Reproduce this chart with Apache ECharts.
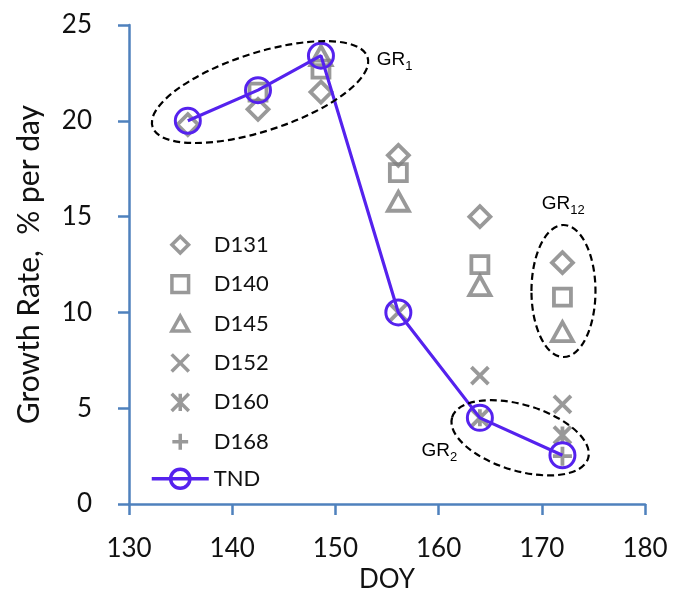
<!DOCTYPE html>
<html><head><meta charset="utf-8">
<script src="https://cdn.jsdelivr.net/npm/echarts@6/dist/echarts.min.js"></script>
<style>html,body{margin:0;padding:0;background:#fff}#c{width:673px;height:598px}</style>
</head><body><div id="c"></div>
<script>
// ---- data ----
const doy  = [135.7, 142.5, 148.6, 156.1, 164.0, 172.0];
const D131 = [19.8, 20.6, 21.5, 18.2, 15.0, 12.6];
const D140 = [null, 21.5, 22.7, 17.3, 12.5, 10.8];
const D145 = [null, null, 23.4, 15.8, 11.4, 9.0];
const D152 = [null, null, null, 10.0, 6.7, 5.2];
const D160 = [null, null, null, null, 4.5, 3.6];
const D168 = [null, null, null, null, null, 2.5];
const TND  = [20.0, 21.6, 23.4, 10.0, 4.5, 2.55];
const seriesNames = ['D131', 'D140', 'D145', 'D152', 'D160', 'D168'];
const seriesValues = [D131, D140, D145, D152, D160, D168];
const xTickLabels = ['130', '140', '150', '160', '170', '180'];
const yTickLabels = ['0', '5', '10', '15', '20', '25'];

// ---- styles ----
const GRAY = '#808080';
const PURPLE = '#5522ee';
const AXIS = '#4f81bd';
const FONT = 'Lato';
const shapes = [
  'M5,0L10,5L5,10L0,5Z',
  'M0,0L10,0L10,10L0,10Z',
  'M5,0.5L10,9.5L0,9.5Z',
  'M0,0L10,10M10,0L0,10',
  'M0,0L10,10M10,0L0,10M5,0L5,10',
  'M5,0L5,10M0,5L10,5'
];
const sizes = [21, 17, 21, 17, 17, 19];
const legendPad = [2.2, 2.2, 2.2, 2.0, 2.0, 2.6];

function pairs(vals) {
  const out = [];
  vals.forEach((v, i) => { if (v !== null) out.push([doy[i], v]); });
  return out;
}

const series = seriesNames.map((n, k) => ({
  name: n, type: 'scatter', data: pairs(seriesValues[k]),
  symbol: 'path://' + shapes[k], symbolSize: sizes[k], symbolKeepAspect: true,
  itemStyle: {color: 'transparent', borderColor: GRAY, borderWidth: 3.8},
  emphasis: {disabled: true}, z: 2
}));
series.push({
  name: 'TND', type: 'line', data: pairs(TND),
  symbol: 'circle', symbolSize: 25, showAllSymbol: true,
  lineStyle: {color: PURPLE, width: 3.2},
  itemStyle: {color: 'transparent', borderColor: PURPLE, borderWidth: 3},
  emphasis: {disabled: true}, z: 3
});

// legend icons: same shapes with a little empty margin (moveTo points) so they draw smaller
const legendData = seriesNames.map((n, k) => {
  const p = legendPad[k];
  return {name: n, icon: 'path://M' + (-p) + ',' + (-p) + 'M' + (10 + p) + ',' + (10 + p) + shapes[k]};
});
legendData.push({name: 'TND'});

const option = {
  animation: false,
  backgroundColor: '#fff',
  grid: {left: 129, right: 28, top: 25, bottom: 91, containLabel: false},
  legend: {
    orient: 'vertical', left: 145, top: 226,
    itemWidth: 57, itemHeight: 24, itemGap: 11.9,
    symbolKeepAspect: true,
    selectedMode: false,
    data: legendData,
    textStyle: {color: '#111', fontSize: 22, fontFamily: FONT, lineHeight: 22},
    itemStyle: {borderWidth: 3.5},
    lineStyle: {width: 3.5}
  },
  xAxis: {
    type: 'value', min: 130, max: 180, interval: 10,
    axisLine: {show: true, onZero: false, lineStyle: {color: AXIS, width: 2.5}},
    axisTick: {show: true, length: 11, lineStyle: {color: AXIS, width: 2.5}},
    splitLine: {show: false},
    axisLabel: {color: '#111', fontSize: 26, fontFamily: FONT, margin: 32,
      formatter: v => xTickLabels[Math.round((v - 130) / 10)]},
    name: 'DOY', nameLocation: 'middle', nameGap: 62,
    nameTextStyle: {color: '#111', fontSize: 26, fontFamily: FONT}
  },
  yAxis: {
    type: 'value', min: 0, max: 25, interval: 5,
    axisLine: {show: true, onZero: false, lineStyle: {color: AXIS, width: 2.5}},
    axisTick: {show: true, length: 11, lineStyle: {color: AXIS, width: 2.5}},
    splitLine: {show: false},
    axisLabel: {color: '#111', fontSize: 26, fontFamily: FONT, margin: 37,
      formatter: v => yTickLabels[Math.round(v / 5)]},
    name: 'Growth Rate,  % per day', nameLocation: 'middle', nameRotate: 90, nameGap: 85,
    nameTextStyle: {color: '#111', fontSize: 30, fontFamily: FONT}
  },
  series: series
};

const chart = echarts.init(document.getElementById('c'), null, {renderer: 'canvas'});
chart.setOption(option);

// ---- annotations (dashed ellipses and labels) ----
const ellipses = [
  {c: [142.7, 21.5], rx: 113, ry: 39, rot: 18},
  {c: [167.9, 3.46], rx: 71, ry: 33, rot: -16.7},
  {c: [172.1, 11.12], rx: 32, ry: 66, rot: 0}
];
const labels = [
  {p: [154.0, 23.2], main: 'GR', sub: '1'},
  {p: [170.0, 15.66], main: 'GR', sub: '12'},
  {p: [158.35, 2.77], main: 'GR', sub: '2'}
];
const g = [];
ellipses.forEach(e => {
  const c = chart.convertToPixel({gridIndex: 0}, e.c);
  g.push({type: 'ellipse', x: c[0], y: c[1], rotation: e.rot * Math.PI / 180,
    shape: {cx: 0, cy: 0, rx: e.rx, ry: e.ry},
    style: {fill: 'none', stroke: '#000', lineWidth: 2.2, lineDash: [7, 4]}, z: 10});
});
labels.forEach(l => {
  const p = chart.convertToPixel({gridIndex: 0}, l.p);
  g.push({type: 'text', x: p[0], y: p[1], z: 11,
    style: {text: '{a|' + l.main + '}{b|' + l.sub + '}', verticalAlign: 'middle', align: 'left',
      rich: {
        a: {fontSize: 19, fontFamily: 'Liberation Sans', fill: '#000', lineHeight: 26, verticalAlign: 'middle'},
        b: {fontSize: 13, fontFamily: 'Liberation Sans', fill: '#000', lineHeight: 13, verticalAlign: 'bottom'}
      }}});
});
chart.setOption({graphic: g});
</script>
</body></html>
